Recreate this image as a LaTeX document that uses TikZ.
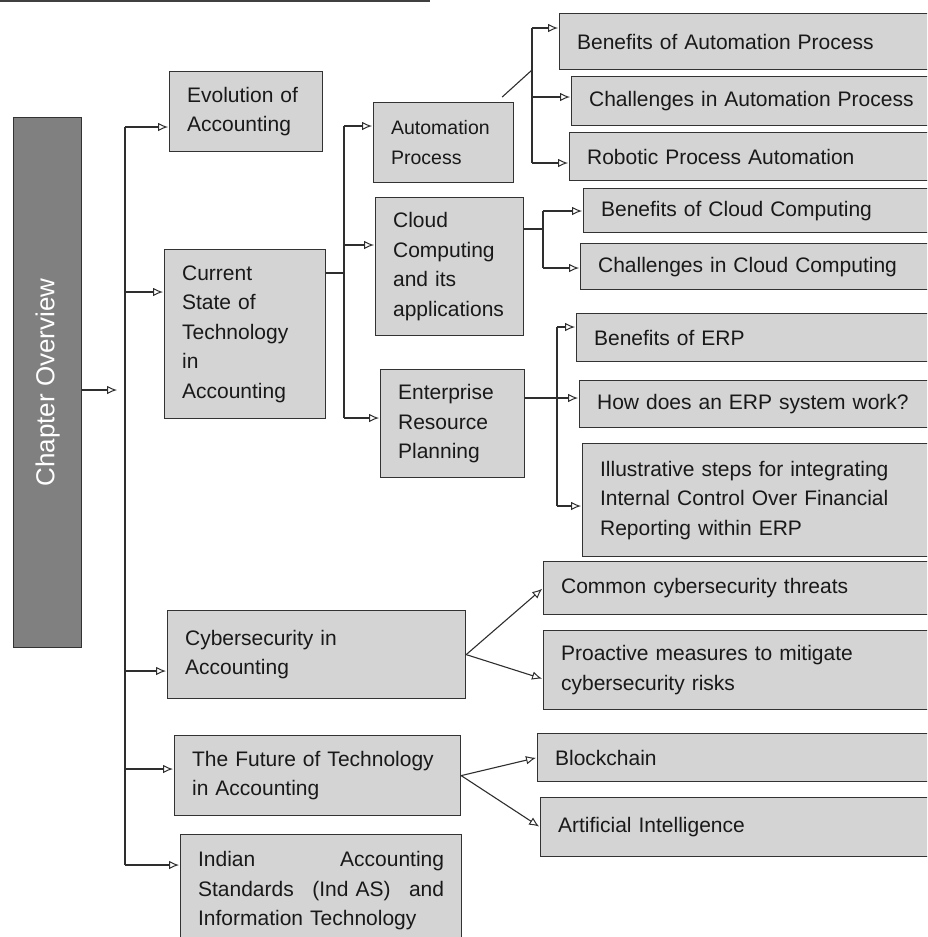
\documentclass[tikz,border=0pt]{standalone}
\usepackage{fontspec}
\setmainfont{Liberation Sans}
\usetikzlibrary{arrows.meta,calc}

\begin{document}
\begin{tikzpicture}[x=1pt,y=-1pt,
  box/.style={draw=black!80, line width=1.2pt, fill=black!17, anchor=north west,
    inner xsep=17.5pt, inner ysep=0pt, align=left, text=black!90,
    font=\fontsize{21}{29.5}\selectfont},
  link/.style={draw=black!82, line width=1.1pt},
  arr/.style={link, -{Latex[open,length=10pt,width=8.5pt,line width=1pt]}, shorten >=1pt},
]
\useasboundingbox (0,0) rectangle (927,937);
\clip (0,0) rectangle (927,937);

% thin rule along the top edge
\fill[black!75] (0,0) rectangle (430,2);

% side banner
\node[box, fill=black!50, minimum width=68pt, minimum height=530pt,
  label={[rotate=90, text=white, font=\fontsize{26}{30}\selectfont]center:Chapter Overview}] (co) at (13,117) {};

% first level
\node[box, minimum width=153pt, minimum height=80pt, text width=118pt] (ev) at (169,71) {Evolution of\\Accounting};
\node[box, minimum width=161pt, minimum height=169pt, text width=126pt] (cs) at (164,249) {Current\\State of\\Technology\\in\\Accounting};
\node[box, minimum width=298pt, minimum height=88pt, text width=263pt] (cy) at (167,610) {Cybersecurity in\\Accounting};
\node[box, minimum width=286pt, minimum height=80pt, text width=251pt] (fu) at (174,735) {The Future of Technology\\in Accounting};
\node[box, minimum width=281pt, minimum height=112pt, text width=246pt] (ind) at (180,834)
  {\makebox[246pt][s]{Indian\hfill Accounting}\\\makebox[246pt][s]{Standards\hfill(Ind AS)\hfill and}\\Information Technology};

% second level
\node[box, minimum width=140pt, minimum height=80pt, text width=105pt, font=\fontsize{19.5}{30}\selectfont] (ap) at (373,102) {Automation\\Process};
\node[box, minimum width=148pt, minimum height=138pt, text width=113pt] (cc) at (375,197) {Cloud\\Computing\\and its\\applications};
\node[box, minimum width=144pt, minimum height=108pt, text width=109pt] (erp) at (380,369) {Enterprise\\Resource\\Planning};

% third level
\node[box, minimum width=380pt, minimum height=56pt, text width=345pt] (bap) at (559,13) {Benefits of Automation Process};
\node[box, minimum width=370pt, minimum height=49pt, text width=335pt] (cap) at (571,76) {Challenges in Automation Process};
\node[box, minimum width=370pt, minimum height=48pt, text width=335pt] (rpa) at (569,132) {Robotic Process Automation};
\node[box, minimum width=360pt, minimum height=44pt, text width=325pt] (bcc) at (583,188) {Benefits of Cloud Computing};
\node[box, minimum width=360pt, minimum height=46pt, text width=325pt] (ccc) at (580,243) {Challenges in Cloud Computing};
\node[box, minimum width=360pt, minimum height=48pt, text width=325pt] (berp) at (576,313) {Benefits of ERP};
\node[box, minimum width=360pt, minimum height=47pt, text width=325pt] (how) at (579,380) {How does an ERP system work?};
\node[box, minimum width=360pt, minimum height=113pt, text width=325pt] (ill) at (582,443) {Illustrative steps for integrating\\Internal Control Over Financial\\Reporting within ERP};
\node[box, minimum width=400pt, minimum height=53pt, text width=365pt] (cct) at (543,561) {Common cybersecurity threats};
\node[box, minimum width=400pt, minimum height=79pt, text width=365pt] (pm) at (543,630) {Proactive measures to mitigate\\cybersecurity risks};
\node[box, minimum width=400pt, minimum height=48pt, text width=365pt] (bc) at (537,733) {Blockchain};
\node[box, minimum width=400pt, minimum height=59pt, text width=365pt] (ai) at (540,797) {Artificial Intelligence};

% main trunk
\coordinate (tin) at (118,390);
\coordinate (t1) at (125,127);
\coordinate (t2) at (125,292);
\coordinate (t3) at (125,671);
\coordinate (t4) at (125,769);
\coordinate (t5) at (125,865);
\draw[arr] (co.east |- tin) -- (tin);
\draw[link] (t1) -- (t5);
\draw[arr] (t1) -- (ev.west |- t1);
\draw[arr] (t2) -- (cs.west |- t2);
\draw[arr] (t3) -- (cy.west |- t3);
\draw[arr] (t4) -- (fu.west |- t4);
\draw[arr] (t5) -- (ind.west |- t5);

% current state branches
\coordinate (s0) at (344,273);
\coordinate (s1) at (344,126);
\coordinate (s2) at (344,245);
\coordinate (s3) at (344,418);
\draw[link] (cs.east |- s0) -- (s0);
\draw[link] (s1) -- (s3);
\draw[arr] (s1) -- (ap.west |- s1);
\draw[arr] (s2) -- (cc.west |- s2);
\draw[arr] (s3) -- (erp.west |- s3);

% automation branches
\coordinate (a0) at (532,70);
\coordinate (a1) at (532,28);
\coordinate (a2) at (532,97);
\coordinate (a3) at (532,163);
\draw[link] ($(ap.north east)+(-12,-5)$) -- (a0);
\draw[link] (a1) -- (a3);
\draw[arr] (a1) -- (bap.west |- a1);
\draw[arr] (a2) -- (cap.west |- a2);
\draw[arr] (a3) -- (rpa.west |- a3);

% cloud branches
\coordinate (c0) at (543,229);
\coordinate (c1) at (543,211);
\coordinate (c2) at (543,268);
\draw[link] (cc.east |- c0) -- (c0);
\draw[link] (c1) -- (c2);
\draw[arr] (c1) -- (bcc.west |- c1);
\draw[arr] (c2) -- (ccc.west |- c2);

% ERP branches
\coordinate (e0) at (557,398);
\coordinate (e1) at (557,327);
\coordinate (e3) at (557,506);
\draw[link] (erp.east |- e0) -- (e0);
\draw[link] (e1) -- (e3);
\draw[arr] (e1) -- (berp.west |- e1);
\draw[arr] (e0) -- (how.west |- e0);
\draw[arr] (e3) -- (ill.west |- e3);

% cybersecurity and future branches
\coordinate (p2) at (543,679);
\draw[arr] (cy.east) -- (cct.west);
\draw[arr] (cy.east) -- (p2);
\draw[arr] (fu.east) -- (bc.west);
\draw[arr] (fu.east) -- (ai.west);
\end{tikzpicture}
\end{document}
